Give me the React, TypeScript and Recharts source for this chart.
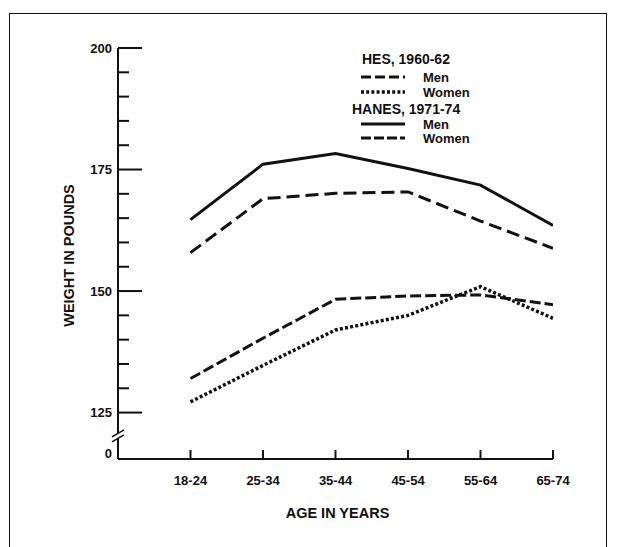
import { LineChart, Line, XAxis, YAxis, Legend, Label } from 'recharts';

const ageGroups = ['18-24', '25-34', '35-44', '45-54', '55-64', '65-74'];
const hesMen = [157.9, 169.0, 170.1, 170.4, 164.4, 158.8];
const hesWomen = [127.2, 134.7, 142.0, 145.0, 150.9, 144.4];
const hanesMen = [164.7, 176.1, 178.3, 175.2, 171.8, 163.5];
const hanesWomen = [132.0, 140.3, 148.3, 149.0, 149.2, 147.2];

// axis is broken below 125: the bottom of the scale is labelled "0"
const weightTicks = [125, 130, 135, 140, 145, 150, 155, 160, 165, 170, 175, 180, 185, 190, 195, 200];
const ZERO_TICK = 116.5;
const BREAK_TICK = 120.2;
const Y_MIN = 115.45;

const rows = ageGroups.map((age, i) => ({
  pos: i + 1,
  age,
  hesMen: hesMen[i],
  hesWomen: hesWomen[i],
  hanesMen: hanesMen[i],
  hanesWomen: hanesWomen[i],
}));

const FONT = '"Liberation Sans", Arial, Helvetica, sans-serif';
const INK = '#111';

const styles = {
  hesMen: { dash: '13 6', width: 3 },
  hesWomen: { dash: '3 2.2', width: 3.5 },
  hanesMen: { dash: undefined, width: 3 },
  hanesWomen: { dash: '11 4', width: 3 },
};

function WeightTick(props: any) {
  const { x, y, payload } = props;
  const ax = x + 6;
  const v = payload.value;
  if (v === ZERO_TICK) {
    return (
      <text x={ax - 6} y={y} textAnchor="end" dominantBaseline="central" fontSize={13} fontWeight="bold" fill={INK} fontFamily={FONT}>
        0
      </text>
    );
  }
  if (v === BREAK_TICK) {
    return (
      <g>
        <rect x={ax - 4} y={y - 3} width={8} height={6} fill="#fff" />
        <line x1={ax - 6} y1={y + 1} x2={ax + 6} y2={y - 6} stroke={INK} strokeWidth={1.5} />
        <line x1={ax - 6} y1={y + 6} x2={ax + 6} y2={y - 1} stroke={INK} strokeWidth={1.5} />
      </g>
    );
  }
  const major = v % 25 === 0;
  return (
    <g>
      <line x1={ax} y1={y} x2={ax + (major ? 24 : 11)} y2={y} stroke={INK} strokeWidth={2} />
      {major && (
        <text x={ax - 6} y={y} textAnchor="end" dominantBaseline="central" fontSize={13} fontWeight="bold" fill={INK} fontFamily={FONT}>
          {v}
        </text>
      )}
    </g>
  );
}

function AgeTick(props: any) {
  const { x, y, payload } = props;
  return (
    <g>
      <line x1={x} y1={y} x2={x} y2={y - 9} stroke={INK} strokeWidth={2} />
      <text x={x} y={y + 26} textAnchor="middle" fontSize={13} fontWeight="bold" fill={INK} fontFamily={FONT}>
        {ageGroups[payload.value - 1]}
      </text>
    </g>
  );
}

function LegendBox() {
  const lx1 = 16;
  const lx2 = 60;
  const tx = 78;
  const item = (y: number, label: string, dash?: string, w = 3) => (
    <g>
      <line x1={lx1} y1={y} x2={lx2} y2={y} stroke={INK} strokeWidth={w} strokeDasharray={dash} />
      <text x={tx} y={y} dominantBaseline="central" fontSize={13} fontWeight="bold" fill={INK} fontFamily={FONT}>
        {label}
      </text>
    </g>
  );
  return (
    <svg width={170} height={100}>
      <text x={17} y={9} dominantBaseline="central" fontSize={14} fontWeight="bold" fill={INK} fontFamily={FONT}>
        HES, 1960-62
      </text>
      {item(27, 'Men', '10 4')}
      {item(42, 'Women', '3 2.2', 3.5)}
      <text x={7} y={59} dominantBaseline="central" fontSize={14} fontWeight="bold" fill={INK} fontFamily={FONT}>
        HANES, 1971-74
      </text>
      {item(74, 'Men')}
      {item(88, 'Women', '10 3')}
    </svg>
  );
}

export default function App() {
  return (
    <div style={{ position: 'absolute', left: 0, top: 0, width: 621, height: 547, background: '#fff', overflow: 'hidden', fontFamily: FONT }}>
      <div
        style={{
          position: 'absolute',
          left: 9,
          top: 13,
          width: 596,
          height: 560,
          borderLeft: `1.5px solid ${INK}`,
          borderTop: `1.5px solid ${INK}`,
          borderRight: `1.5px solid ${INK}`,
        }}
      />
      <LineChart width={621} height={547} data={rows} margin={{ top: 48, right: 68, bottom: 0, left: 58 }}>
        <XAxis
          type="number"
          dataKey="pos"
          domain={[0, 6]}
          ticks={[1, 2, 3, 4, 5, 6]}
          allowDataOverflow
          height={88}
          tickSize={0}
          tickMargin={0}
          tickLine={false}
          axisLine={{ stroke: INK, strokeWidth: 2 }}
          tick={<AgeTick />}
          interval={0}
        >
          <Label
            content={({ viewBox }: any) => (
              <text
                x={viewBox.x + viewBox.width / 2 + 2}
                y={viewBox.y + 54}
                textAnchor="middle"
                dominantBaseline="central"
                fontSize={14.5}
                fontWeight="bold"
                fill={INK}
                fontFamily={FONT}
              >
                AGE IN YEARS
              </text>
            )}
          />
        </XAxis>
        <YAxis
          type="number"
          domain={[Y_MIN, 200]}
          ticks={[ZERO_TICK, BREAK_TICK, ...weightTicks]}
          allowDataOverflow
          width={60}
          tickSize={0}
          tickMargin={6}
          tickLine={false}
          axisLine={{ stroke: INK, strokeWidth: 2 }}
          tick={<WeightTick />}
          interval={0}
        >
          <Label
            content={({ viewBox }: any) => {
              const cx = viewBox.x + 11;
              const cy = viewBox.y + viewBox.height / 2 + 2;
              return (
                <text
                  x={cx}
                  y={cy}
                  transform={`rotate(-90 ${cx} ${cy})`}
                  textAnchor="middle"
                  dominantBaseline="central"
                  fontSize={14.5}
                  fontWeight="bold"
                  fill={INK}
                  fontFamily={FONT}
                >
                  WEIGHT IN POUNDS
                </text>
              );
            }}
          />
        </YAxis>
        <Legend
          layout="horizontal"
          verticalAlign="middle"
          align="center"
          content={() => <LegendBox />}
          wrapperStyle={{ left: 345, top: 50, width: 170, height: 100 }}
        />
        <Line dataKey="hanesMen" stroke={INK} strokeWidth={styles.hanesMen.width} dot={false} isAnimationActive={false} strokeDasharray={styles.hanesMen.dash} />
        <Line dataKey="hesMen" stroke={INK} strokeWidth={styles.hesMen.width} dot={false} isAnimationActive={false} strokeDasharray={styles.hesMen.dash} />
        <Line dataKey="hanesWomen" stroke={INK} strokeWidth={styles.hanesWomen.width} dot={false} isAnimationActive={false} strokeDasharray={styles.hanesWomen.dash} />
        <Line dataKey="hesWomen" stroke={INK} strokeWidth={styles.hesWomen.width} dot={false} isAnimationActive={false} strokeDasharray={styles.hesWomen.dash} />
      </LineChart>
    </div>
  );
}
